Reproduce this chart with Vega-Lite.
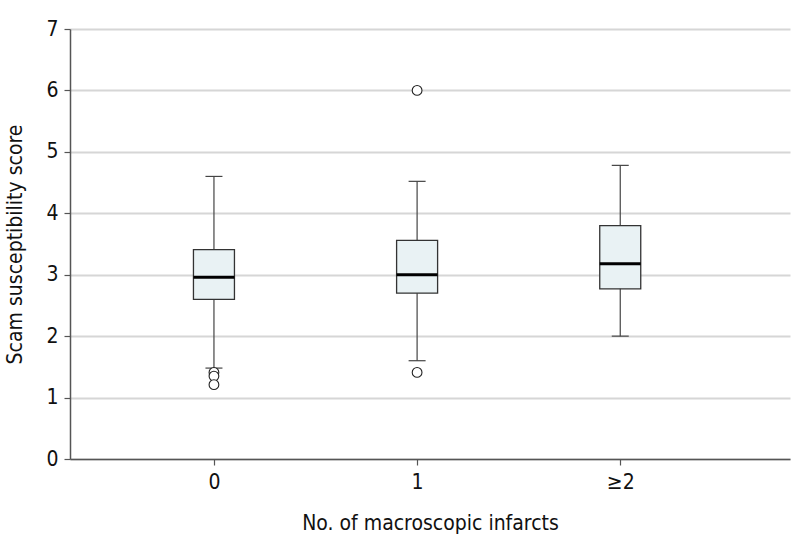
{
  "$schema": "https://vega.github.io/schema/vega-lite/v6.json",
  "width": 720,
  "height": 430,
  "autosize": {"type": "none"},
  "padding": {"left": 70, "top": 29, "right": 8, "bottom": 89},
  "background": "white",
  "config": {
    "font": "Liberation Sans Narrow, DejaVu Sans Condensed, Roboto Condensed, sans-serif",
    "view": {"stroke": null},
    "axis": {
      "labelFont": "Liberation Sans Narrow, DejaVu Sans Condensed, sans-serif",
      "titleFont": "Liberation Sans Narrow, DejaVu Sans Condensed, sans-serif",
      "labelFontSize": 21,
      "titleFontSize": 21,
      "titleFontWeight": "normal",
      "labelColor": "#111",
      "titleColor": "#111",
      "domainColor": "#555",
      "domainWidth": 1.5,
      "tickColor": "#555",
      "tickWidth": 1.2,
      "tickSize": 6
    }
  },
  "datasets": {
    "boxes": [
      {"infarcts": 0, "label": "0", "lower": 1.48, "q1": 2.6, "median": 2.96, "q3": 3.41, "upper": 4.6},
      {"infarcts": 1, "label": "1", "lower": 1.6, "q1": 2.7, "median": 3.0, "q3": 3.56, "upper": 4.52},
      {"infarcts": 2, "label": "≥2", "lower": 2.0, "q1": 2.77, "median": 3.18, "q3": 3.8, "upper": 4.78}
    ],
    "outliers": [
      {"infarcts": 0, "score": 1.41},
      {"infarcts": 0, "score": 1.35},
      {"infarcts": 0, "score": 1.21},
      {"infarcts": 1, "score": 6.0},
      {"infarcts": 1, "score": 1.41}
    ]
  },
  "layer": [
    {
      "data": {"name": "boxes"},
      "mark": {"type": "rule", "color": "#444", "strokeWidth": 1.2},
      "encoding": {
        "x": {
          "field": "infarcts", "type": "quantitative",
          "scale": {"domain": [-0.684, 2.811], "nice": false, "zero": false},
          "axis": {
            "values": [0, 1, 2],
            "labelExpr": "datum.value == 2 ? '≥2' : format(datum.value, 'd')",
            "grid": false,
            "title": "No. of macroscopic infarcts",
            "labelPadding": 6,
            "titlePadding": 20
          }
        },
        "y": {
          "field": "lower", "type": "quantitative",
          "scale": {"domain": [0, 7], "nice": false},
          "axis": {
            "values": [0, 1, 2, 3, 4, 5, 6, 7],
            "format": "d",
            "grid": true,
            "gridColor": "#d6d6d6",
            "gridWidth": 2,
            "title": "Scam susceptibility score",
            "labelPadding": 6,
            "titlePadding": 20
          }
        },
        "y2": {"field": "upper"}
      }
    },
    {
      "data": {"name": "boxes"},
      "mark": {"type": "tick", "orient": "horizontal", "color": "#444", "opacity": 1, "size": 17, "thickness": 1.2},
      "encoding": {
        "x": {"field": "infarcts", "type": "quantitative"},
        "y": {"field": "upper", "type": "quantitative"}
      }
    },
    {
      "data": {"name": "boxes"},
      "mark": {"type": "tick", "orient": "horizontal", "color": "#444", "opacity": 1, "size": 17, "thickness": 1.2},
      "encoding": {
        "x": {"field": "infarcts", "type": "quantitative"},
        "y": {"field": "lower", "type": "quantitative"}
      }
    },
    {
      "data": {"name": "boxes"},
      "mark": {"type": "bar", "orient": "vertical", "size": 41, "fill": "#e9f2f4", "stroke": "#333", "strokeWidth": 1.3},
      "encoding": {
        "x": {"field": "infarcts", "type": "quantitative"},
        "y": {"field": "q1", "type": "quantitative"},
        "y2": {"field": "q3"}
      }
    },
    {
      "data": {"name": "boxes"},
      "mark": {"type": "tick", "orient": "horizontal", "color": "#000", "opacity": 1, "size": 41, "thickness": 3},
      "encoding": {
        "x": {"field": "infarcts", "type": "quantitative"},
        "y": {"field": "median", "type": "quantitative"}
      }
    },
    {
      "data": {"name": "outliers"},
      "mark": {"type": "point", "shape": "circle", "size": 95, "fill": "white", "filled": false, "stroke": "#222", "strokeWidth": 1.1, "opacity": 1},
      "encoding": {
        "x": {"field": "infarcts", "type": "quantitative"},
        "y": {"field": "score", "type": "quantitative"}
      }
    }
  ]
}
